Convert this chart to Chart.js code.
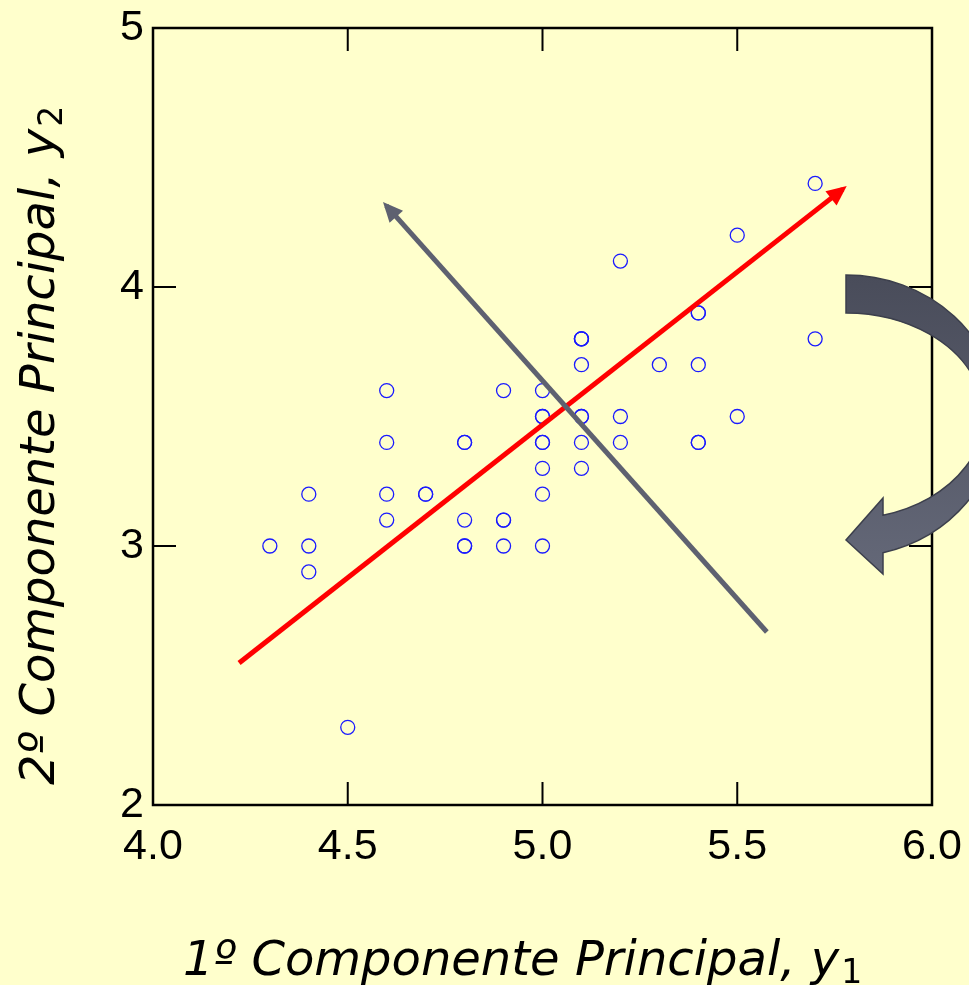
<!DOCTYPE html>
<html><head><meta charset="utf-8">
<script src="https://cdn.jsdelivr.net/npm/chart.js@4/dist/chart.umd.min.js"></script>
<style>html,body{margin:0;padding:0;background:#FFFFCC;}#wrap{width:969px;height:985px;}</style>
</head><body><div id="wrap"><canvas id="c" width="969" height="985"></canvas></div>
<script>
// Observations (1st variable, 2nd variable)
const xValues = [5.1,4.9,4.7,4.6,5.0,5.4,4.6,5.0,4.4,4.9,5.4,4.8,4.8,4.3,5.8,5.7,5.4,5.1,5.7,5.1,5.4,5.1,4.6,5.1,4.8,5.0,5.0,5.2,5.2,4.7,4.8,5.4,5.2,5.5,4.9,5.0,5.5,4.9,4.4,5.1,5.0,4.5,4.4,5.0,5.1,4.8,5.1,4.6,5.3,5.0];
const yValues = [3.5,3.0,3.2,3.1,3.6,3.9,3.4,3.4,2.9,3.1,3.7,3.4,3.0,3.0,4.0,4.4,3.9,3.5,3.8,3.8,3.4,3.7,3.6,3.3,3.4,3.0,3.4,3.5,3.4,3.2,3.1,3.4,4.1,4.2,3.1,3.2,3.5,3.6,3.0,3.4,3.5,2.3,3.2,3.5,3.8,3.0,3.8,3.2,3.7,3.3];
// Principal component axes (start, end)
const pc1X = [4.221, 5.771];
const pc1Y = [2.548, 4.378];
const pc2X = [5.576, 4.599];
const pc2Y = [2.668, 4.314];
// Axis ticks
const xTickValues = [4.0, 4.5, 5.0, 5.5, 6.0];
const yTickValues = [2, 3, 4, 5];
const xTitleText = '1º Componente Principal, y';
const xTitleSub = '1';
const yTitleText = '2º Componente Principal, y';
const yTitleSub = '2';

const toPts = (xs, ys) => xs.map((x, i) => ({x: x, y: ys[i]}));

const bgPlugin = {
  id: 'bg',
  beforeDraw(chart) {
    const ctx = chart.ctx;
    ctx.save();
    ctx.fillStyle = '#FFFFCC';
    ctx.fillRect(0, 0, chart.width, chart.height);
    ctx.restore();
  }
};

const framePlugin = {
  id: 'frame',
  beforeDatasetsDraw(chart) {
    const ctx = chart.ctx, a = chart.chartArea;
    const xs = chart.scales.x, ys = chart.scales.y;
    ctx.save();
    ctx.strokeStyle = '#000';
    ctx.lineWidth = 2;
    const tl = 23;
    ctx.beginPath();
    xTickValues.forEach(v => {
      const px = xs.getPixelForValue(v);
      ctx.moveTo(px, a.bottom); ctx.lineTo(px, a.bottom - tl);
      ctx.moveTo(px, a.top); ctx.lineTo(px, a.top + tl);
    });
    yTickValues.forEach(v => {
      const py = ys.getPixelForValue(v);
      ctx.moveTo(a.left, py); ctx.lineTo(a.left + tl, py);
      ctx.moveTo(a.right, py); ctx.lineTo(a.right - tl, py);
    });
    ctx.stroke();
    ctx.lineWidth = 2.5;
    ctx.strokeRect(a.left, a.top, a.right - a.left, a.bottom - a.top);
    ctx.restore();
  }
};

const arrowPlugin = {
  id: 'arrowheads',
  afterDatasetsDraw(chart) {
    const ctx = chart.ctx;
    chart.data.datasets.forEach((ds, i) => {
      if (!ds.arrow) return;
      const pts = chart.getDatasetMeta(i).data;
      const p0 = pts[pts.length - 2], p1 = pts[pts.length - 1];
      let dx = p1.x - p0.x, dy = p1.y - p0.y;
      const len = Math.hypot(dx, dy); dx /= len; dy /= len;
      const tipX = p1.x + dx * 5, tipY = p1.y + dy * 5;
      const hl = 20, hw = 9;
      const bx = tipX - dx * hl, by = tipY - dy * hl;
      ctx.save();
      ctx.fillStyle = ds.borderColor;
      ctx.beginPath();
      ctx.moveTo(tipX, tipY);
      ctx.lineTo(bx - dy * hw, by + dx * hw);
      ctx.lineTo(bx + dy * hw, by - dx * hw);
      ctx.closePath();
      ctx.fill();
      ctx.restore();
    });
  }
};

const decorPlugin = {
  id: 'decor',
  afterDraw(chart) {
    const ctx = chart.ctx;
    ctx.save();
    // curved rotation arrow
    const cx = 846, cy = 416;
    const rxo = 153, ryo = 141, rxi = 137.5, ryi = 103;
    const ao = Math.acos(37 / rxo), ai = Math.acos(37 / rxi);
    ctx.beginPath();
    ctx.ellipse(cx, cy, rxo, ryo, 0, -Math.PI / 2, ao, false);
    ctx.lineTo(883, 574);
    ctx.lineTo(846, 540);
    ctx.lineTo(883, 498);
    ctx.ellipse(cx, cy, rxi, ryi, 0, ai, -Math.PI / 2, true);
    ctx.closePath();
    const g = ctx.createLinearGradient(0, 275, 0, 575);
    g.addColorStop(0, '#494c5a');
    g.addColorStop(1, '#646878');
    ctx.fillStyle = g;
    ctx.fill();
    ctx.strokeStyle = '#3c3f4c';
    ctx.lineWidth = 1.5;
    ctx.stroke();

    // axis titles
    ctx.fillStyle = '#000';
    ctx.textBaseline = 'alphabetic';
    ctx.textAlign = 'left';
    const mainFont = 'italic 48px "DejaVu Sans"';
    const subFont = '33px "DejaVu Sans"';
    ctx.font = mainFont;
    let w = ctx.measureText(xTitleText).width;
    ctx.fillText(xTitleText, 183, 975);
    ctx.font = subFont;
    ctx.fillText(xTitleSub, 183 + w + 2, 983);

    ctx.translate(54, 785);
    ctx.rotate(-Math.PI / 2);
    ctx.font = mainFont;
    w = ctx.measureText(yTitleText).width;
    ctx.fillText(yTitleText, 0, 0);
    ctx.font = subFont;
    ctx.fillText(yTitleSub, w + 2, 8);
    ctx.restore();
  }
};

new Chart(document.getElementById('c'), {
  type: 'scatter',
  data: {
    datasets: [
      { label: 'PC2', data: toPts(pc2X, pc2Y), showLine: true, borderColor: '#5E6170', borderWidth: 5, pointRadius: 0, arrow: true, order: 0 },
      { label: 'PC1', data: toPts(pc1X, pc1Y), showLine: true, borderColor: '#FF0000', borderWidth: 5, pointRadius: 0, arrow: true, order: 1 },
      { label: 'Dados', data: toPts(xValues, yValues), pointStyle: 'circle', pointRadius: 7, borderWidth: 1.3, borderColor: '#1a1aff', backgroundColor: 'rgba(0,0,0,0)', order: 2 }
    ]
  },
  options: {
    responsive: false,
    animation: false,
    events: [],
    layout: { padding: { top: 28, right: 37, left: 0, bottom: 0 } },
    plugins: { legend: { display: false }, tooltip: { enabled: false } },
    scales: {
      x: {
        type: 'linear', min: 4, max: 6,
        afterFit(s) { s.height = 180; s.paddingLeft = 0; s.paddingRight = 0; },
        afterBuildTicks(s) { s.ticks = xTickValues.map(v => ({value: v})); },
        grid: { display: false, drawTicks: false },
        border: { display: false },
        ticks: { padding: 16, color: '#000', font: { family: '"Liberation Sans", Arial', size: 43 }, maxRotation: 0, autoSkip: false, callback: v => Number(v).toFixed(1) }
      },
      y: {
        type: 'linear', min: 2, max: 5,
        afterFit(s) { s.width = 153; s.paddingTop = 0; s.paddingBottom = 0; },
        afterBuildTicks(s) { s.ticks = yTickValues.map(v => ({value: v})); },
        grid: { display: false, drawTicks: false },
        border: { display: false },
        ticks: { padding: 9, color: '#000', font: { family: '"Liberation Sans", Arial', size: 43 }, autoSkip: false, callback: v => String(v) }
      }
    }
  },
  plugins: [bgPlugin, framePlugin, arrowPlugin, decorPlugin]
});
</script></body></html>
